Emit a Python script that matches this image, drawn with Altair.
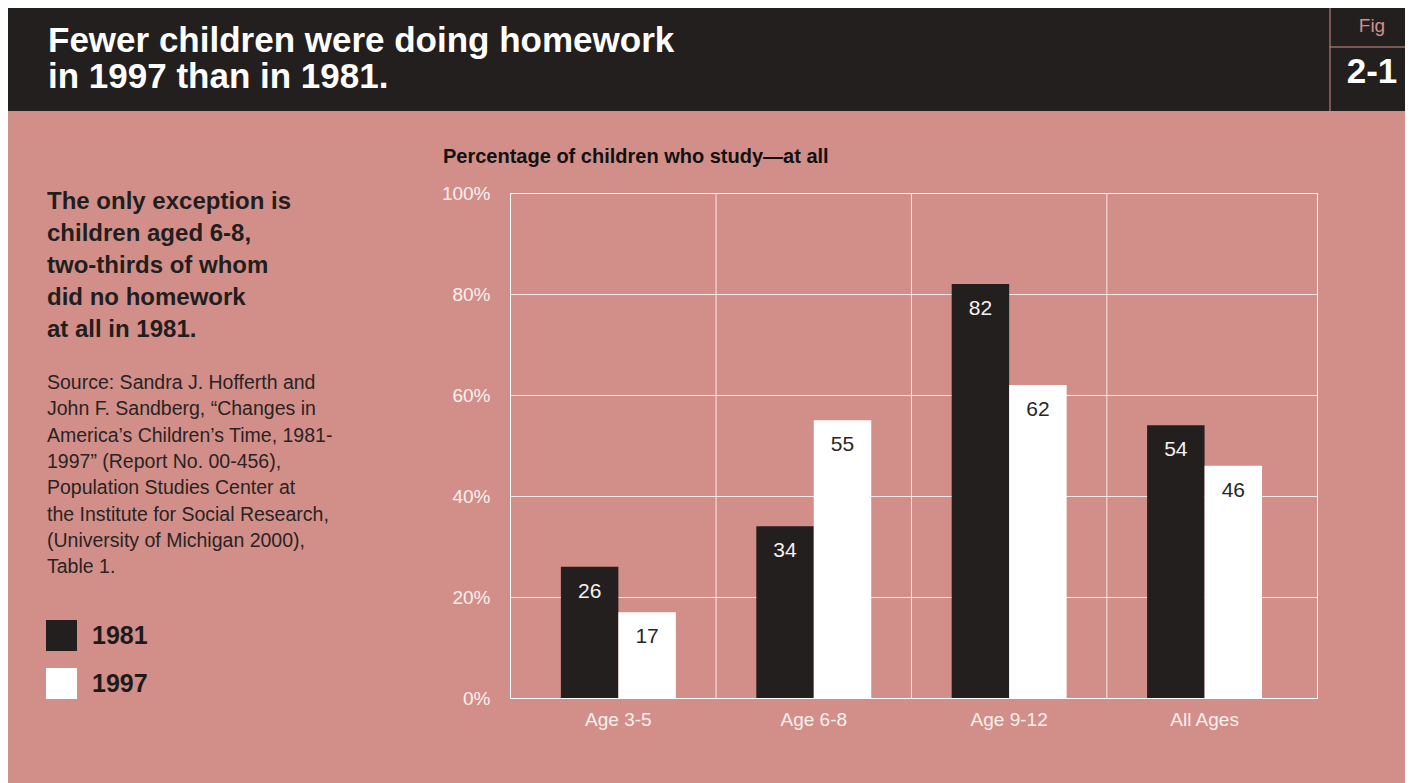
import altair as alt
import pandas as pd

# ---- data ----
categories = ["Age 3-5", "Age 6-8", "Age 9-12", "All Ages"]
years = ["1981", "1997"]
values_1981 = [26, 34, 82, 54]
values_1997 = [17, 55, 62, 46]
y_ticks = [0, 20, 40, 60, 80, 100]

title_lines = ["Fewer children were doing homework", "in 1997 than in 1981."]
subtitle = "Percentage of children who study\u2014at all"
note_lines = ["The only exception is", "children aged 6-8,", "two-thirds of whom",
              "did no homework", "at all in 1981."]
source_lines = ["Source: Sandra J. Hofferth and",
                "John F. Sandberg, \u201cChanges in",
                "America\u2019s Children\u2019s Time, 1981-",
                "1997\u201d (Report No. 00-456),",
                "Population Studies Center at",
                "the Institute for Social Research,",
                "(University of Michigan 2000),",
                "Table 1."]

rows = []
for c, a, b in zip(categories, values_1981, values_1997):
    rows.append({"cat": c, "year": "1981", "value": a})
    rows.append({"cat": c, "year": "1997", "value": b})
df = pd.DataFrame(rows)
grid_df = pd.DataFrame({"cat": categories[1:]})
one = pd.DataFrame({"k": [0]})

PINK = "#D28F8A"
DARK = "#231F1F"
FONT = "Liberation Sans"
W, H = 807, 505

xscale = alt.Scale(domain=categories, paddingInner=0, paddingOuter=0.065, align=0.42)
xaxis = alt.Axis(title=None, ticks=False, domain=False, grid=False,
                 labelFontSize=19, labelColor="#FBEFEC", labelFont=FONT,
                 labelPadding=12, labelAngle=0)
yscale = alt.Scale(domain=[0, 100], nice=False)
yaxis = alt.Axis(title=None, ticks=False, domain=False, values=y_ticks,
                 labelExpr="datum.value + '%'", labelFontSize=19,
                 labelColor="#FBEFEC", labelFont=FONT, labelPadding=20,
                 grid=True, gridColor="#FFFFFF", gridOpacity=0.8)
offscale = alt.Scale(domain=years, paddingInner=0, paddingOuter=0.70)

base = alt.Chart(df)

vgrid = alt.Chart(grid_df).mark_rule(color="#FFFFFF", opacity=0.8, strokeWidth=1).encode(
    x=alt.X("cat:N", scale=xscale, axis=xaxis, bandPosition=0),
    y=alt.value(0), y2=alt.value(H))

bars = base.mark_bar().encode(
    x=alt.X("cat:N", scale=xscale, axis=xaxis, sort=categories),
    xOffset=alt.XOffset("year:N", scale=offscale),
    y=alt.Y("value:Q", scale=yscale, axis=yaxis),
    color=alt.Color("year:N",
                    scale=alt.Scale(domain=years, range=[DARK, "#FFFFFF"]),
                    legend=alt.Legend(title=None, orient="none", legendX=-464, legendY=427,
                                      symbolType="square", symbolSize=961,
                                      symbolStrokeWidth=0, symbolOpacity=1,
                                      labelFontSize=25, labelFont=FONT,
                                      labelFontWeight="bold", labelColor="#1E1A1A",
                                      labelOffset=15, rowPadding=17, padding=0)),
)

bar_labels = base.mark_text(baseline="alphabetic", dy=31, fontSize=21, font=FONT).encode(
    x=alt.X("cat:N", scale=xscale, axis=xaxis, sort=categories),
    xOffset=alt.XOffset("year:N", scale=offscale),
    y=alt.Y("value:Q", scale=yscale, axis=yaxis),
    text=alt.Text("value:Q"),
    color=alt.condition(alt.datum.year == "1981", alt.value("#F7F1EF"), alt.value("#2A2626")),
)

header = alt.Chart(one).mark_rect(color=DARK).encode(
    x=alt.value(-520), x2=alt.value(1000), y=alt.value(-200), y2=alt.value(-82))
fig_vline = alt.Chart(one).mark_rule(color=PINK, strokeWidth=1).encode(
    x=alt.value(820), y=alt.value(-200), y2=alt.value(-82))
fig_hline = alt.Chart(one).mark_rule(color=PINK, strokeWidth=1).encode(
    x=alt.value(820), x2=alt.value(1000), y=alt.value(-146))
fig_text = alt.Chart(one).mark_text(text="Fig", font=FONT, fontSize=19, color=PINK,
                                    align="center", baseline="alphabetic").encode(
    x=alt.value(862), y=alt.value(-161))
fig_num = alt.Chart(one).mark_text(text="2-1", font=FONT, fontSize=35, fontWeight="bold",
                                   color="#FFFFFF", align="center", baseline="alphabetic").encode(
    x=alt.value(862), y=alt.value(-110))
title_text = alt.Chart(one).mark_text(text=title_lines, font=FONT, fontSize=35, fontWeight="bold",
                                      color="#FFFFFF", align="left", baseline="alphabetic",
                                      lineHeight=36).encode(
    x=alt.value(-462), y=alt.value(-141))
subtitle_text = alt.Chart(one).mark_text(text=subtitle, font=FONT, fontSize=20, fontWeight="bold",
                                         color="#111111", align="left", baseline="alphabetic").encode(
    x=alt.value(-67), y=alt.value(-30))
note_text = alt.Chart(one).mark_text(text=note_lines, font=FONT, fontSize=24, fontWeight="bold",
                                     color="#221E1E", align="left", baseline="alphabetic",
                                     lineHeight=32).encode(
    x=alt.value(-463), y=alt.value(16))
source_text = alt.Chart(one).mark_text(text=source_lines, font=FONT, fontSize=19.5,
                                       color="#2A2322", align="left", baseline="alphabetic",
                                       lineHeight=26.3).encode(
    x=alt.value(-463), y=alt.value(196))

chart = alt.layer(
    header, fig_vline, fig_hline, fig_text, fig_num, title_text, subtitle_text,
    note_text, source_text, vgrid, bars, bar_labels
).properties(
    width=W, height=H,
    padding={"left": 502, "top": 185, "right": 88, "bottom": 100},
    autosize=alt.AutoSizeParams(type="none"),
    background=PINK,
).configure_view(stroke="#FFFFFF", strokeWidth=1)

chart.save("out.html", embed_options={"renderer": "svg", "actions": False})
